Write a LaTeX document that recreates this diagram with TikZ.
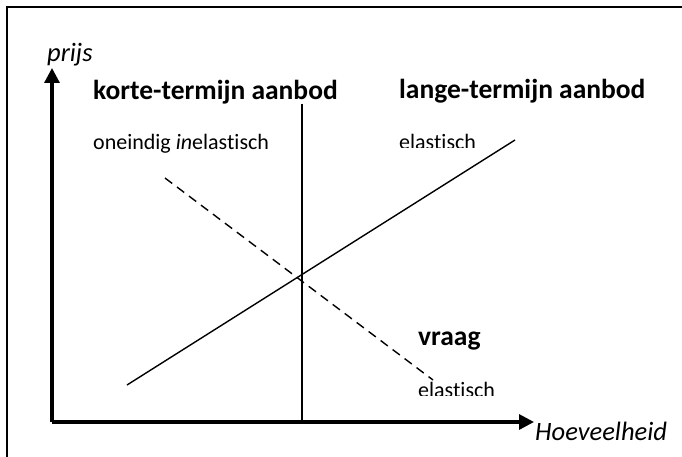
\documentclass[tikz,border=0pt]{standalone}
\usepackage{fontspec}
\setmainfont{Carlito}[Ligatures=NoCommon]
\usetikzlibrary{arrows.meta}
\begin{document}
\begin{tikzpicture}[x=1pt,y=-1pt,
  axis/.style={line width=3.2pt,-{Triangle[length=15pt,width=15pt]}},
  curve/.style={line width=1.4pt},
  frameline/.style={line width=1.6pt},
  boldlbl/.style={font=\fontsize{27.5}{30}\selectfont\bfseries,inner sep=0pt,anchor=base west},
  lbl/.style={font=\fontsize{22}{25}\selectfont,inner sep=0pt,anchor=base west},
  axlbl/.style={font=\fontsize{26.5}{29}\selectfont\itshape,inner sep=0pt,anchor=base west}]
\useasboundingbox (0,0) rectangle (682,457);
% frame (top and left edges)
\coordinate (fa) at (7,457);
\coordinate (fb) at (7,7);
\coordinate (fc) at (682,7);
\draw[frameline] (fa) -- (fb) -- (fc);
% axes
\coordinate (origin) at (52,422);
\coordinate (ytip) at (52,68);
\coordinate (xtip) at (534,422);
\draw[axis] (origin) -- (ytip);
\draw[axis] (origin) -- (xtip);
% short-term supply (vertical)
\coordinate (st1) at (302,104);
\coordinate (st2) at (302,422);
\draw[curve] (st1) -- (st2);
% long-term supply
\coordinate (lt1) at (127,385);
\coordinate (lt2) at (515,140);
\draw[curve] (lt1) -- (lt2);
% demand (dashed)
\coordinate (d1) at (165,178);
\coordinate (d2) at (433,380);
\draw[curve,dash pattern=on 9pt off 6pt] (d1) -- (d2);
% labels
\node[axlbl] (prijs) at (47,62) {prijs};
\node[axlbl] (hoev) at (535,440) {Hoeveelheid};
\node[boldlbl] (korte) at (93,100) {korte-termijn aanbod};
\node[boldlbl] (lange) at (399,99) {lange-termijn aanbod};
\node[lbl] (oneind) at (93,150) {oneindig \textit{in}elastisch};
\begin{scope}
\clip (390,110) rectangle (500,148);
\node[lbl] (elas1) at (399,150) {elastisch};
\end{scope}
\node[boldlbl] (vraag) at (418,345) {vraag};
\begin{scope}
\clip (410,370) rectangle (510,395);
\node[lbl] (elas2) at (418,397) {elastisch};
\end{scope}
\end{tikzpicture}
\end{document}
